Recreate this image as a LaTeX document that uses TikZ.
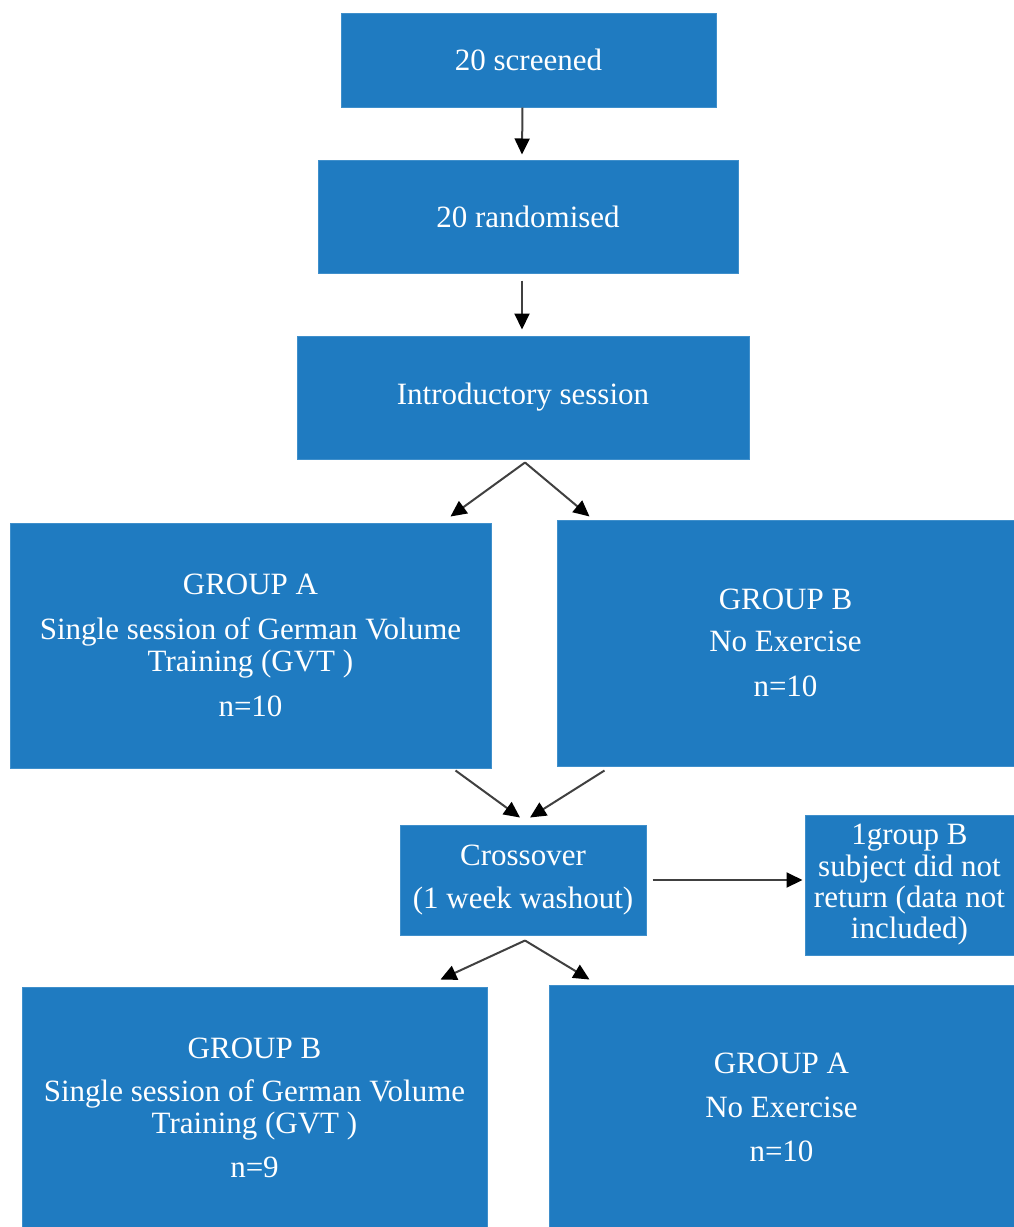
\documentclass[tikz,border=0pt]{standalone}
\usepackage{fontspec}
\setmainfont{Liberation Serif}
\usetikzlibrary{arrows.meta}
\definecolor{boxblue}{HTML}{1F7BC1}
\definecolor{boxedge}{HTML}{3F8FCB}
\begin{document}
\begin{tikzpicture}[x=1pt,y=-1pt,
 box/.style={fill=boxblue, draw=boxedge, line width=1pt, text=white, align=center, inner sep=0pt, font=\fontsize{31}{32}\selectfont},
 arr/.style={draw=black!75, line width=2pt, -{Triangle[length=16pt,width=15pt,color=black,fill=black]}}]
\useasboundingbox (0,0) rectangle (1014,1227);
\node[box, minimum width=375pt, minimum height=94pt] (s) at (528.5,60) {20 screened};
\node[box, minimum width=420pt, minimum height=113pt] (r) at (528,216.5) {20 randomised};
\node[box, minimum width=452pt, minimum height=123pt] (i) at (523,397.5) {Introductory session};
\node[box, minimum width=481pt, minimum height=245pt] (gA) at (250.5,645.5) {GROUP A\\[13pt]Single session of German Volume\\Training (GVT )\\[13pt]n=10};
\node[box, minimum width=457pt, minimum height=246pt] (gB) at (785.5,643) {GROUP B\\[10pt]No Exercise\\[13pt]n=10};
\node[box, minimum width=246pt, minimum height=110pt] (c) at (523,880) {Crossover\\[11pt](1 week washout)};
\node[box, minimum width=209pt, minimum height=140pt, font=\fontsize{31}{31.3}\selectfont] (side) at (909.5,885) {1group B\\subject did not\\return (data not\\included)};
\node[box, minimum width=465pt, minimum height=242pt] (bA) at (254.5,1108) {GROUP B\\[11pt]Single session of German Volume\\Training (GVT )\\[12pt]n=9};
\node[box, minimum width=465pt, minimum height=244pt] (bB) at (781.5,1107) {GROUP A\\[12pt]No Exercise\\[12pt]n=10};
\draw[arr] ([xshift=-6pt]s.south) -- ([xshift=-6pt,yshift=5pt]r.north);
\draw[arr] ([xshift=-6pt,yshift=-7pt]r.south) -- ([xshift=-1pt,yshift=6pt]i.north);
\draw[arr] ([xshift=2pt,yshift=-3pt]i.south) -- ([xshift=-41pt,yshift=6pt]gA.north east);
\draw[arr] ([xshift=2pt,yshift=-3pt]i.south) -- ([xshift=33pt,yshift=3pt]gB.north west);
\draw[arr] ([xshift=-36pt,yshift=-2pt]gA.south east) -- ([xshift=-3pt,yshift=7pt]c.north);
\draw[arr] ([xshift=48pt,yshift=-4pt]gB.south west) -- ([xshift=7pt,yshift=7pt]c.north);
\draw[arr] ([xshift=6pt]c.east) -- ([xshift=-2pt,yshift=5pt]side.west);
\draw[arr] ([xshift=2pt,yshift=-5pt]c.south) -- ([xshift=-47pt,yshift=7pt]bA.north east);
\draw[arr] ([xshift=2pt,yshift=-5pt]c.south) -- ([xshift=41pt,yshift=5pt]bB.north west);
\end{tikzpicture}
\end{document}
